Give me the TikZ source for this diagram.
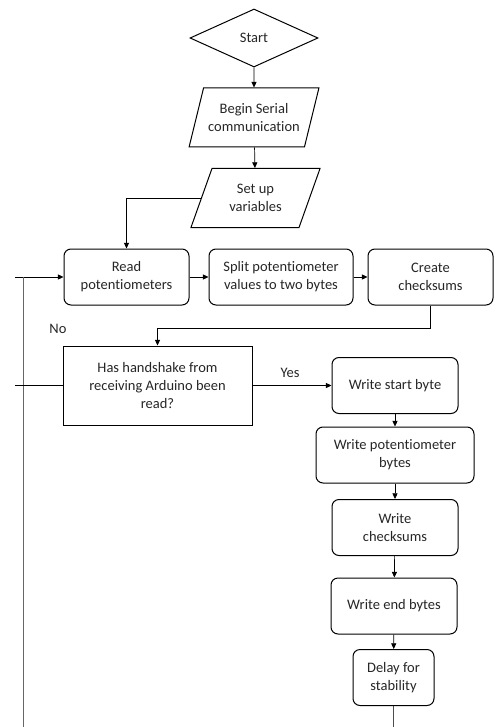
\documentclass[tikz,border=0pt]{standalone}
\usepackage{fontspec}
\setmainfont{Carlito}[Ligatures={NoCommon}]
\usepackage{tikz}
\usetikzlibrary{arrows.meta,positioning,shapes.geometric}

\begin{document}
\begin{tikzpicture}[
  x=1pt, y=-1pt,
  font=\fontsize{14.5}{18}\selectfont,
  text=black!85,
  box/.style={draw, line width=1pt, rounded corners=7pt, minimum height=56pt, align=center, inner sep=2pt},
  io/.style={draw, line width=1pt, trapezium, trapezium left angle=66, trapezium right angle=114, trapezium stretches=true, minimum width=130pt, minimum height=59pt, align=center, inner sep=1pt},
  arrow/.style={-{Triangle[length=2mm,width=1.8mm]}, line width=0.7pt},
  line/.style={line width=0.7pt},
  lab/.style={font=\fontsize{14.5}{16}\selectfont}
]
\useasboundingbox (0,0) rectangle (497,727);
\node[draw, line width=1pt, diamond, minimum width=128pt, minimum height=58pt, inner sep=0pt] (start) at (254,38) {Start};
\node[io] (serial) at (254,117.5) {Begin Serial\\communication};
\node[io] (setup) at (255.5,198) {Set up\\variables};
\node[box, minimum width=125pt] (read) at (126.5,277) {Read\\potentiometers};
\node[box, minimum width=144pt] (split) at (281,277) {Split potentiometer\\values to two bytes};
\node[box, minimum width=125pt] (create) at (430.5,277) {Create\\checksums};
\node[draw, line width=1pt, minimum width=189pt, minimum height=79pt, align=center] (decide) at (157.5,385.5) {Has handshake from\\receiving Arduino been\\read?};
\node[box, minimum width=126pt] (wstart) at (395,385.5) {Write start byte};
\node[box, minimum width=158pt] (wpot) at (395,455) {Write potentiometer\\bytes};
\node[box, minimum width=126pt] (wsum) at (395,527.5) {Write\\checksums};
\node[box, minimum width=126pt] (wend) at (394,606) {Write end bytes};
\node[box, minimum width=81pt] (delay) at (393.5,677.5) {Delay for\\stability};
\node[lab] (no) at (58,329) {No};
\node[lab] (yes) at (290,373) {Yes};
\coordinate (loopin) at (15,277);
\coordinate (looptop) at (23,277);
\coordinate (loopbot) at (23,727);
\coordinate (noin) at (15,385.5);
\coordinate (delayend) at (393.5,727);
\draw[arrow] (start) -- (serial);
\draw[arrow] (serial) -- (setup);
\draw[arrow] (setup.west) -| (read.north);
\draw[arrow] (read) -- (split);
\draw[arrow] (split) -- (create);
\draw[arrow] (create.south) -- ++(0,23) -| (decide.north);
\draw[arrow] (decide) -- (wstart);
\draw[arrow] (wstart) -- (wpot);
\draw[arrow] (wpot) -- (wsum);
\draw[arrow] (wsum) -- (wend);
\draw[arrow] (wend) -- (delay);
\draw[line, black!70] (delay) -- (delayend);
\draw[arrow] (loopin) -- (read);
\draw[line, black!60] (looptop) -- (loopbot);
\draw[line] (noin) -- (decide);
\end{tikzpicture}
\end{document}
